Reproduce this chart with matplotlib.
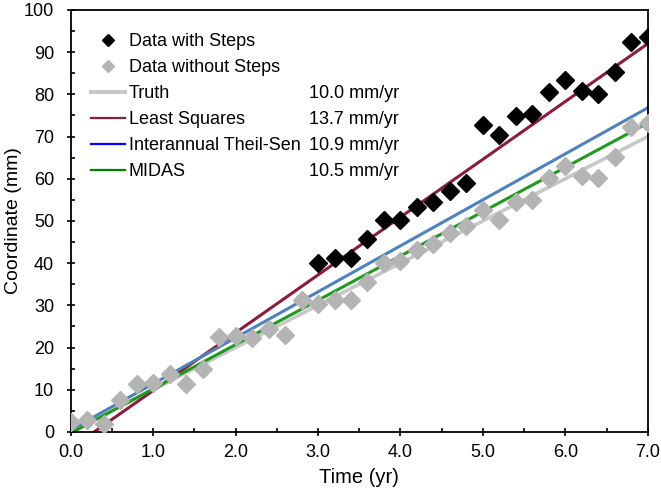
import matplotlib
matplotlib.use('Agg')
import matplotlib.pyplot as plt
import numpy as np
from matplotlib.lines import Line2D
from matplotlib.ticker import MultipleLocator, FormatStrFormatter

plt.rcParams['font.family'] = ['Liberation Sans', 'DejaVu Sans']

# ---- data ----
t_all = [0.0, 0.2, 0.4, 0.6, 0.8, 1.0, 1.2, 1.4, 1.6, 1.8, 2.0, 2.2, 2.4, 2.6, 2.8,
         3.0, 3.2, 3.4, 3.6, 3.8, 4.0, 4.2, 4.4, 4.6, 4.8, 5.0, 5.2, 5.4, 5.6, 5.8,
         6.0, 6.2, 6.4, 6.6, 6.8, 7.0]
y_nostep = [2.4, 2.8, 1.9, 7.6, 11.3, 11.7, 13.7, 11.3, 14.9, 22.4, 22.7, 22.2, 24.3, 23.0, 31.3,
            30.2, 31.3, 31.3, 35.6, 40.1, 40.5, 43.1, 44.5, 47.1, 48.8, 52.6, 50.1, 54.6, 55.0, 60.1,
            63.1, 60.7, 60.1, 65.2, 72.2, 73.2]

t_step = [3.0, 3.2, 3.4, 3.6, 3.8, 4.0, 4.2, 4.4, 4.6, 4.8, 5.0, 5.2, 5.4, 5.6, 5.8,
          6.0, 6.2, 6.4, 6.6, 6.8, 7.0]
y_step = [40.0, 41.2, 41.1, 45.6, 50.2, 50.1, 53.4, 54.6, 57.2, 59.1, 72.7, 70.4, 74.9, 75.4, 80.6,
          83.4, 80.9, 80.0, 85.4, 92.5, 93.5]

# fitted lines: slope (mm/yr) and intercept (mm)
fit_names = ['Truth', 'Least Squares', 'Interannual Theil-Sen', 'MIDAS']
fit_slopes = [10.0, 13.7, 10.9, 10.5]
fit_intercepts = [0.0, -3.9, 0.5, -0.3]
fit_colors = ['#c8c8c8', '#8c1c3c', '#4f81bd', '#1f9a1f']
legend_colors = ['#c8c8c8', '#8c1c3c', '#0000ff', '#008000']
fit_widths = [2.6, 2.2, 2.2, 2.2]
rate_labels = ['10.0 mm/yr', '13.7 mm/yr', '10.9 mm/yr', '10.5 mm/yr']

fig = plt.figure(figsize=(6.61, 4.97), dpi=100)
ax = fig.add_axes([0.107, 0.131, 0.873, 0.849])

tline = np.array([0.0, 7.0])
for m, b, c, lw in zip(fit_slopes, fit_intercepts, fit_colors, fit_widths):
    ax.plot(tline, m * tline + b, color=c, lw=lw, zorder=2)

ax.plot(t_step, y_step, linestyle='none', marker='D', ms=9, color='black', zorder=3)
ax.plot(t_all, y_nostep, linestyle='none', marker='D', ms=9, color='#b4b4b4', zorder=3)

ax.set_xlim(0, 7)
ax.set_ylim(0, 100)
ax.xaxis.set_major_locator(MultipleLocator(1))
ax.xaxis.set_minor_locator(MultipleLocator(0.5))
ax.yaxis.set_major_locator(MultipleLocator(10))
ax.yaxis.set_minor_locator(MultipleLocator(5))
ax.xaxis.set_major_formatter(FormatStrFormatter('%.1f'))
ax.tick_params(which='major', direction='inout', length=6, width=1.2, labelsize=13)
ax.tick_params(axis='x', which='major', pad=6)
ax.tick_params(axis='y', which='major', pad=9)
ax.tick_params(which='minor', direction='in', length=3, width=1.2)
for s in ax.spines.values():
    s.set_linewidth(1.3)

ax.set_xlabel('Time (yr)', fontsize=14.5, labelpad=5)
ax.set_ylabel('Coordinate (mm)', fontsize=14, labelpad=1)

handles = [
    Line2D([], [], linestyle='none', marker='D', ms=6, color='black'),
    Line2D([], [], linestyle='none', marker='D', ms=6, color='#b4b4b4'),
]
for c, lw in zip(legend_colors, [3.0, 1.6, 1.6, 1.6]):
    handles.append(Line2D([], [], color=c, lw=lw))
labels = ['Data with Steps', 'Data without Steps'] + fit_names
leg = ax.legend(handles, labels, loc='upper left', bbox_to_anchor=(0.022, 0.962), frameon=False,
                fontsize=13, handlelength=1.9, handletextpad=0.2, labelspacing=0.5,
                borderaxespad=0)

# put the rates on the same rows as the fit entries of the legend
fig.canvas.draw()
inv = ax.transAxes.inverted()
for txt_obj, rate in zip(leg.get_texts()[2:], rate_labels):
    bb = txt_obj.get_window_extent()
    yc = inv.transform((0, (bb.y0 + bb.y1) / 2))[1]
    ax.text(0.413, yc, rate, transform=ax.transAxes, fontsize=13, va='center', ha='left')

fig.savefig('out.png', dpi=100, facecolor='white')
